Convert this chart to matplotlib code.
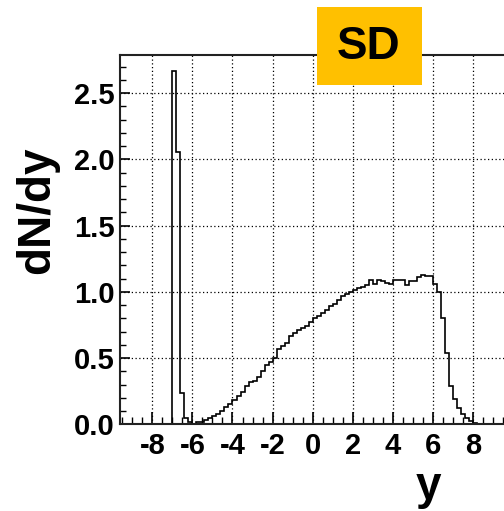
import matplotlib
matplotlib.use("Agg")
import matplotlib.pyplot as plt
from matplotlib.patches import Rectangle
import numpy as np

# histogram of dN/dy, bins of width 0.2 starting at y = -7.0
bin_start = -7.0
bin_width = 0.2
dndy = [
    2.667, 2.055, 0.24, 0.05, 0.015, 0.005, 0.015, 0.02, 0.035, 0.05,
    0.065, 0.08, 0.10, 0.13, 0.15, 0.18, 0.21, 0.245, 0.29, 0.32,
    0.33, 0.36, 0.40, 0.45, 0.47, 0.50, 0.565, 0.59, 0.615, 0.67,
    0.69, 0.71, 0.73, 0.745, 0.77,
    0.80, 0.82, 0.84, 0.865, 0.89, 0.91, 0.94, 0.97, 0.98, 0.995,
    1.01, 1.03, 1.04, 1.055, 1.09, 1.06, 1.09, 1.08, 1.07, 1.06,
    1.09, 1.09, 1.09, 1.055, 1.085, 1.085, 1.115, 1.13, 1.12, 1.12,
    1.06, 1.00, 0.80, 0.535, 0.29, 0.19, 0.125, 0.08, 0.05, 0.025,
    0.01, 0.005, 0.005,
]

xticks = [-8, -6, -4, -2, 0, 2, 4, 6, 8]
xtick_labels = ["-8", "-6", "-4", "-2", "0", "2", "4", "6", "8"]
yticks = [0.0, 0.5, 1.0, 1.5, 2.0, 2.5]
ytick_labels = ["0.0", "0.5", "1.0", "1.5", "2.0", "2.5"]

W, H = 504, 511
fig = plt.figure(figsize=(W / 100, H / 100), dpi=100)

# axes placed in pixels: x=0 at 312.7 px, 20.05 px per unit; y=0 at 424.3 px
xlim = (-9.6, 9.6)
ylim = (0.0, 2.79)
left_px = 312.7 + xlim[0] * 20.05
right_px = 312.7 + xlim[1] * 20.05
bottom_px = 424.3
top_px = 424.3 - ylim[1] * 132.5
ax = fig.add_axes([left_px / W, 1 - bottom_px / H,
                   (right_px - left_px) / W, (bottom_px - top_px) / H])

edges = bin_start + bin_width * np.arange(len(dndy) + 1)
ax.stairs(dndy, edges, color="black", linewidth=1.2, baseline=0)

ax.set_xlim(*xlim)
ax.set_ylim(*ylim)

font = {"family": "Liberation Sans", "weight": "bold"}

ax.set_xticks(xticks)
ax.set_xticklabels(xtick_labels, fontdict=dict(font, size=21))
ax.set_yticks(yticks)
ax.set_yticklabels(ytick_labels, fontdict=dict(font, size=21))
ax.set_xticks(np.arange(-9.5, 9.6, 0.5), minor=True)
ax.set_yticks(np.arange(0, 2.79, 0.1), minor=True)

ax.tick_params(axis="x", which="major", direction="in", length=9, width=1.2, pad=5.5)
ax.tick_params(axis="x", which="minor", direction="in", length=5, width=1.0)
ax.tick_params(axis="y", which="major", direction="in", length=7.5, width=1.2, pad=4)
ax.tick_params(axis="y", which="minor", direction="in", length=4, width=1.0)

ax.grid(True, which="major", color="black", linestyle=(0, (1, 2)), linewidth=0.9)

for s in ax.spines.values():
    s.set_linewidth(1.5)
    s.set_color("#222222")

fig.text(37 / W, 1 - 210 / H, "dN/dy", rotation=90, ha="center", va="center",
         fontsize=33, **font)
fig.text(428 / W, 1 - 499 / H, "y", ha="center", va="baseline", fontsize=33, **font)

# SD label box
fig.patches.append(Rectangle((316.7 / W, 1 - 85 / H), 105.3 / W, 78.3 / H,
                             transform=fig.transFigure, facecolor="#FFC000",
                             edgecolor="none", zorder=5))
fig.text(369 / W, 1 - 47 / H, "SD", ha="center", va="center", fontsize=33,
         zorder=6, **font)

fig.savefig("out.png", dpi=100)
